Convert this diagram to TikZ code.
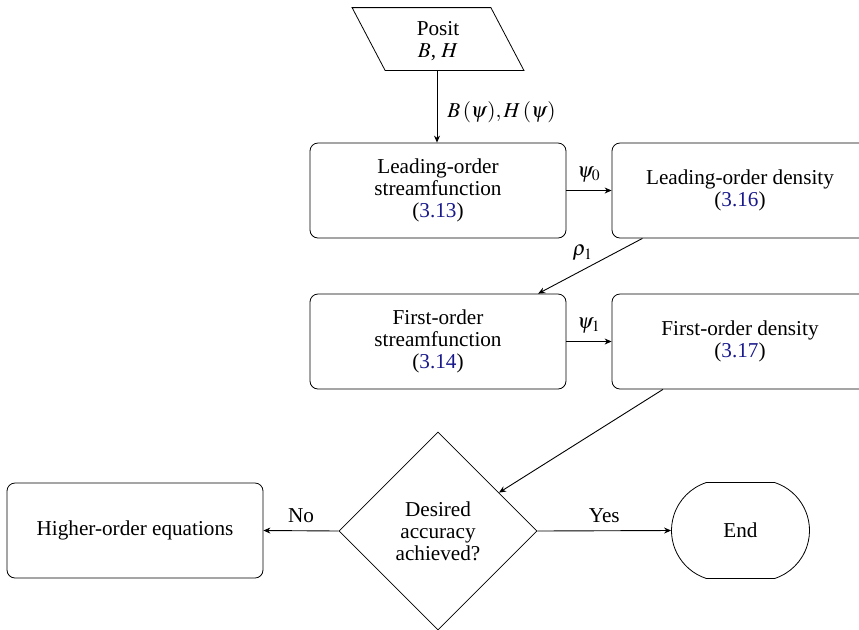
\documentclass[tikz,border=0pt]{standalone}
\usepackage{mathptmx}
\usepackage[no-math]{fontspec}
\setmainfont{Liberation Serif}
\usetikzlibrary{shapes.geometric,shapes.misc,arrows.meta,calc}
\definecolor{linkblue}{rgb}{0.1,0.1,0.55}
\newcommand{\eqref}[1]{(\textcolor{linkblue}{#1})}
\begin{document}
\begin{tikzpicture}[x=0.5pt,y=-0.5pt,
  every node/.style={font=\rmfamily\fontsize{10.6}{11}\selectfont, align=center, inner sep=0pt},
  procbox/.style={draw, rounded corners=4pt, minimum width=128pt, minimum height=47.5pt},
  decbox/.style={draw, diamond, aspect=1, minimum width=99pt, minimum height=99pt},
  termbox/.style={draw, rounded rectangle, rounded rectangle arc length=144, minimum width=69pt, minimum height=48pt},
  flow/.style={-{Stealth[length=3.5pt,width=3pt]}, line width=0.45pt},
  lbl/.style={font=\rmfamily\fontsize{10.6}{11}\selectfont}
]
\useasboundingbox (0,0) rectangle (859,629);
\clip (0,0) rectangle (859,629);

% input parallelogram
\node[minimum width=69pt, minimum height=31pt] (posit) at (438,39) {};
\node (posittext) at (438,41) {Posit\\$B$, $H$};
\draw (posit.north west) ++(-16.5,0) -- ($(posit.north east)+(-16.5,0)$) -- ($(posit.south east)+(16.5,0)$) -- ($(posit.south west)+(16.5,0)$) -- cycle;

\node[procbox] (b1) at (438,190.5) {Leading-order\\streamfunction\\\eqref{3.13}};
\node[procbox] (b2) at (740,190.5) {Leading-order density\\\eqref{3.16}};
\node[procbox] (b3) at (438,341.5) {First-order\\streamfunction\\\eqref{3.14}};
\node[procbox] (b4) at (740,341.5) {First-order density\\\eqref{3.17}};
\node[decbox] (dec) at (438,531) {Desired\\accuracy\\achieved?};
\node[procbox] (hi) at (135,530.5) {Higher-order equations};
\node[termbox] (end) at (740.5,530.5) {End};

\draw[flow] ($(posit.south)+(-1,0)$) -- node[right=5pt, lbl, yshift=-3pt] {$B\,(\psi), H\,(\psi)$} ($(b1.north)+(-1,0)$);
\draw[flow] (b1.east) -- node[above=4pt, lbl] {$\psi_0$} (b2.west);
\draw[flow] ($(b2.south west)!0.12!(b2.south east)$) -- node[above left=1pt, lbl, pos=0.45] {$\rho_1$} ($(b3.north west)!0.89!(b3.north east)$);
\draw[flow] (b3.east) -- node[above=4pt, lbl] {$\psi_1$} (b4.west);
\draw[flow] ($(b4.south west)!0.2!(b4.south east)$) -- (dec);
\draw[flow] (dec.west) -- node[above=4pt, lbl] {No} (hi.east);
\draw[flow] (dec.east) -- node[above=4pt, lbl] {Yes} (end.west);
\end{tikzpicture}
\end{document}
